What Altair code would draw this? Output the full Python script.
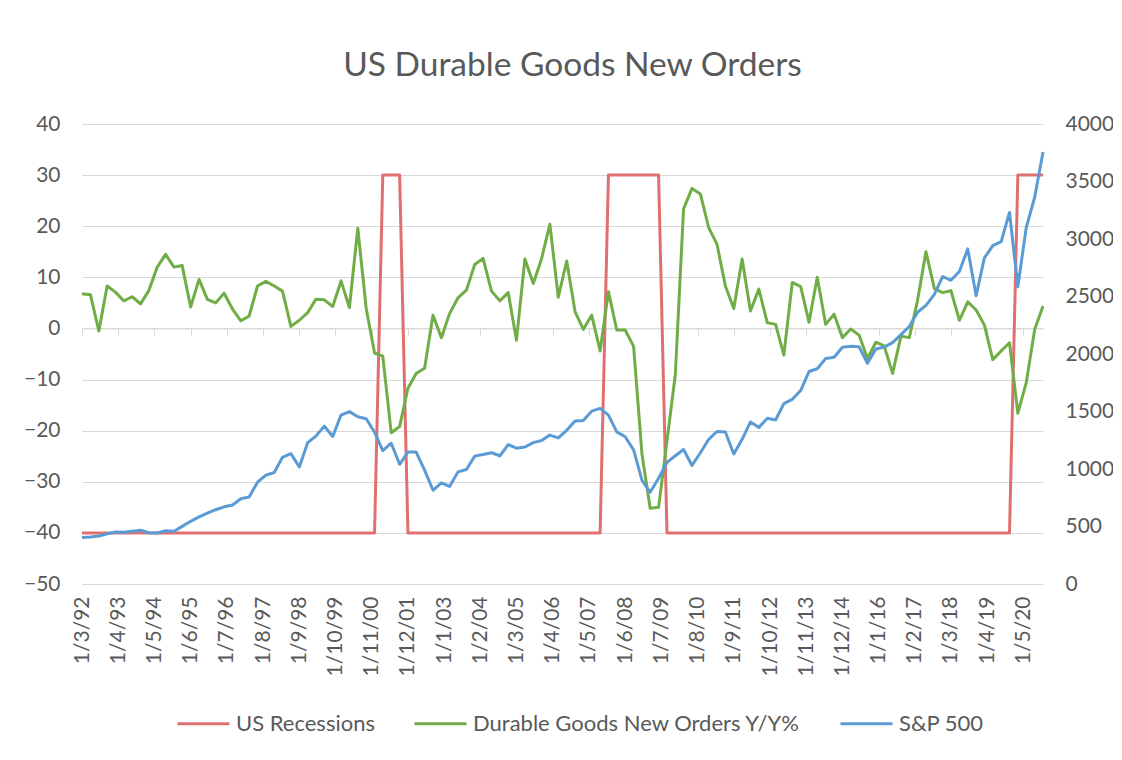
import altair as alt
import pandas as pd

# ---------------- data ----------------
dates = [d.strftime("%Y-%m-%d") for d in pd.date_range(start="1992-03-01", periods=116, freq="3MS")]

recessions = [
    -40, -40, -40, -40, -40, -40, -40, -40, -40, -40, -40, -40,
    -40, -40, -40, -40, -40, -40, -40, -40, -40, -40, -40, -40,
    -40, -40, -40, -40, -40, -40, -40, -40, -40, -40, -40, -40,
    30, 30, 30, -40,
    -40, -40, -40, -40, -40, -40, -40, -40, -40, -40, -40, -40,
    -40, -40, -40, -40, -40, -40, -40, -40, -40, -40, -40,
    30, 30, 30, 30, 30, 30, 30,
    -40, -40, -40, -40, -40, -40, -40, -40, -40, -40, -40, -40,
    -40, -40, -40, -40, -40, -40, -40, -40, -40, -40, -40, -40,
    -40, -40, -40, -40, -40, -40, -40, -40, -40, -40, -40, -40,
    -40, -40, -40, -40, -40, -40,
    30, 30, 30, 30,
]

durable = [
    6.8, 6.6, -0.5, 8.3, 7.1, 5.4, 6.2, 4.8, 7.4, 12.0, 14.5, 12.0,
    12.3, 4.2, 9.6, 5.7, 5.0, 6.9, 3.8, 1.5, 2.4, 8.3, 9.2, 8.3,
    7.3, 0.4, 1.6, 3.1, 5.7, 5.6, 4.3, 9.3, 4.1, 19.6, 3.9, -4.8,
    -5.4, -20.4, -19.2, -11.7, -8.8, -7.8, 2.6, -1.8, 2.9, 6.0, 7.5, 12.5,
    13.7, 7.3, 5.4, 7.0, -2.3, 13.6, 8.8, 13.7, 20.4, 6.1, 13.2, 3.3,
    -0.2, 2.6, -4.4, 7.2, -0.3, -0.3, -3.5, -24.5, -35.2, -35.0, -22.0, -9.0,
    23.4, 27.4, 26.3, 19.7, 16.5, 8.3, 3.9, 13.6, 3.4, 7.7, 1.1, 0.8,
    -5.2, 9.0, 8.2, 1.2, 10.0, 0.8, 2.8, -1.8, -0.1, -1.3, -5.9, -2.7,
    -3.4, -8.8, -1.5, -1.8, 5.5, 15.0, 7.8, 7.0, 7.4, 1.6, 5.2, 3.6,
    0.7, -6.1, -4.4, -2.8, -16.6, -10.6, -0.2, 4.4,
]

sp500 = [
    404, 408, 418, 436, 452, 451, 459, 467, 446, 444, 463, 459,
    501, 545, 584, 616, 646, 671, 687, 741, 757, 885, 947, 970,
    1102, 1134, 1017, 1229, 1286, 1373, 1283, 1469, 1499, 1455, 1437, 1320,
    1160, 1224, 1041, 1148, 1147, 990, 815, 880, 848, 975, 996, 1112,
    1126, 1141, 1115, 1212, 1181, 1191, 1229, 1248, 1295, 1270, 1336, 1418,
    1421, 1503, 1527, 1468, 1323, 1280, 1166, 903, 798, 919, 1057, 1115,
    1169, 1031, 1141, 1258, 1326, 1321, 1131, 1258, 1409, 1362, 1441, 1426,
    1569, 1606, 1682, 1848, 1872, 1960, 1972, 2059, 2068, 2063, 1920, 2044,
    2060, 2099, 2168, 2239, 2363, 2423, 2519, 2674, 2641, 2718, 2914, 2507,
    2834, 2942, 2977, 3231, 2585, 3100, 3363, 3756,
]

series_names = ["US Recessions", "Durable Goods New Orders Y/Y%", "S&P 500"]
series_colors = ["#E07070", "#70AD47", "#5B9BD5"]

tick_dates = pd.date_range(start="1992-03-01", end="2020-05-01", freq="13MS")
tick_ms = [int(t.value // 10**6) for t in tick_dates]
x_min = int(pd.Timestamp("1992-03-01").value // 10**6)
x_max = int(pd.Timestamp("2020-12-01").value // 10**6)

left_ticks = [-50, -40, -30, -20, -10, 0, 10, 20, 30, 40]
right_ticks = [0, 500, 1000, 1500, 2000, 2500, 3000, 3500, 4000]

# ---------------- styling ----------------
FONT = "Lato"
TXT = "#595959"
GRID = "#D9D9D9"
W, H = 961, 460
ZERO_UP = H * 50 / 90  # distance from plot bottom up to the 0 line

rec_df = pd.DataFrame({"date": dates, "value": recessions, "series": series_names[0]})
dur_df = pd.DataFrame({"date": dates, "value": durable, "series": series_names[1]})
sp_df = pd.DataFrame({"date": dates, "value": sp500, "series": series_names[2]})

x_scale = alt.Scale(type="utc", domain=[x_min, x_max], nice=False)
left_scale = alt.Scale(domain=[-50, 40], nice=False, zero=False)
right_scale = alt.Scale(domain=[0, 4000], nice=False, zero=False)

legend = alt.Legend(
    orient="none", legendX=94, legendY=572, direction="horizontal", title=None,
    symbolType="stroke", symbolSize=2704, symbolStrokeWidth=3,
    labelFont=FONT, labelFontSize=22, labelColor=TXT, labelOffset=5,
    columnPadding=33, labelLimit=500,
)
color = alt.Color("series:N", scale=alt.Scale(domain=series_names, range=series_colors), legend=legend)

# one x axis: line and ticks sit on the 0 line, labels pushed down to the bottom
x_axis = alt.Axis(
    values=tick_ms, labelExpr="utcFormat(datum.value, '%-d/%-m/%y')", labelAngle=-90,
    labelFont=FONT, labelFontSize=21, labelColor=TXT,
    labelPadding=ZERO_UP + 12 - 7,
    ticks=True, tickSize=7, tickColor=GRID, tickWidth=1,
    domain=True, domainColor=GRID, domainWidth=1, grid=False, title=None,
    offset=-ZERO_UP,
    labelOverlap=False, labelBound=False, labelFlush=False,
)

left_y_axis = alt.Axis(
    values=left_ticks, grid=True, gridColor=GRID, gridWidth=1, ticks=False, domain=False,
    labelFont=FONT, labelFontSize=21, labelColor=TXT, labelPadding=22, title=None,
)
right_y_axis = alt.Axis(
    values=right_ticks, orient="right", grid=False, ticks=False, domain=False, format="d",
    labelFont=FONT, labelFontSize=21, labelColor=TXT, labelPadding=22, title=None,
)

line_kw = dict(strokeWidth=3, strokeJoin="round")

rec_layer = alt.Chart(rec_df).mark_line(**line_kw).encode(
    x=alt.X("date:T", scale=x_scale, axis=x_axis),
    y=alt.Y("value:Q", scale=left_scale, axis=left_y_axis),
    color=color,
)
dur_layer = alt.Chart(dur_df).mark_line(**line_kw).encode(
    x=alt.X("date:T", scale=x_scale, axis=x_axis),
    y=alt.Y("value:Q", scale=left_scale, axis=None),
    color=color,
)
sp_layer = alt.Chart(sp_df).mark_line(**line_kw).encode(
    x=alt.X("date:T", scale=x_scale, axis=x_axis),
    y=alt.Y("value:Q", scale=right_scale, axis=right_y_axis),
    color=color,
)

chart = (
    alt.layer(rec_layer, dur_layer, sp_layer)
    .resolve_scale(y="independent")
    .resolve_axis(y="independent")
    .properties(
        width=W, height=H,
        title=alt.Title(
            "US Durable Goods New Orders", font=FONT, fontSize=33.5, fontWeight="normal",
            color=TXT, anchor="middle", dx=10, offset=30,
        ),
        autosize=alt.AutoSizeParams(type="none"),
        padding={"left": 74, "top": 116, "right": 70, "bottom": 160},
        background="white",
    )
    .configure_view(stroke=None)
)

chart.save("out.html", embed_options={"renderer": "svg", "actions": False})
